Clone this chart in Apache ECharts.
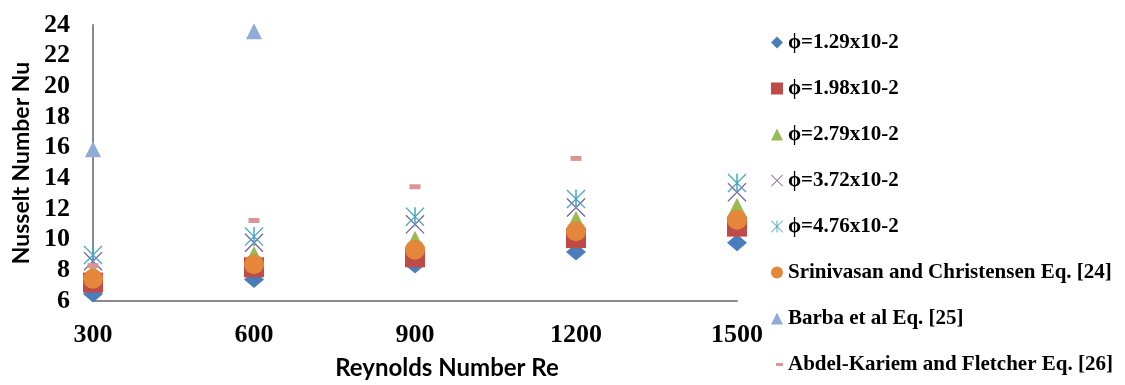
<!DOCTYPE html>
<html>
<head>
<meta charset="utf-8">
<script src="https://cdn.jsdelivr.net/npm/echarts@6/dist/echarts.min.js"></script>
<style>
html,body{margin:0;padding:0;background:#fff;}
#chart{width:1125px;height:385px;}
</style>
</head>
<body>
<div id="chart"></div>
<script>
// ---- data ----
var reynolds = [300, 600, 900, 1200, 1500];
var phi129 = [6.45, 7.4, 8.35, 9.2, 9.8];
var phi198 = [7.2, 8.2, 8.85, 10.1, 10.85];
var phi279 = [7.9, 9.0, 10.0, 11.3, 12.15];
var phi372 = [8.6, 9.8, 11.0, 12.1, 13.1];
var phi476 = [9.0, 10.2, 11.5, 12.65, 13.7];
var srinivasan = [7.45, 8.4, 9.35, 10.55, 11.3];
var barbaRe = [300, 600];
var barba = [15.9, 23.6];
var abdelRe = [300, 600, 900, 1200];
var abdel = [8.3, 11.25, 13.45, 15.3];
var seriesNames = [
  'ϕ=1.29x10-2', 'ϕ=1.98x10-2', 'ϕ=2.79x10-2', 'ϕ=3.72x10-2', 'ϕ=4.76x10-2',
  'Srinivasan and Christensen Eq. [24]', 'Barba et al Eq. [25]', 'Abdel-Kariem and Fletcher Eq. [26]'
];
var yTicks = [6, 8, 10, 12, 14, 16, 18, 20, 22, 24];
var xTicks = [300, 600, 900, 1200, 1500];

function pairs(xs, ys) { return ys.map(function (v, i) { return [xs[i], v]; }); }

var xPath = 'path://M0,1 L1,0 L10,9 L19,0 L20,1 L11,10 L20,19 L19,20 L10,11 L1,20 L0,19 L9,10 Z';
var starPath = 'path://M0,1 L1,0 L10,9 L19,0 L20,1 L11,10 L20,19 L19,20 L10,11 L1,20 L0,19 L9,10 Z M9.2,0 L10.8,0 L10.8,20 L9.2,20 Z';

var serifBold = {fontFamily: 'Liberation Serif', fontWeight: 'bold', color: '#000'};

var chart = echarts.init(document.getElementById('chart'), null, {renderer: 'canvas'});
chart.setOption({
  animation: false,
  backgroundColor: '#fff',
  grid: {left: 93, right: 388, top: 25, bottom: 78.5, containLabel: false},
  xAxis: {
    type: 'value', min: 300, max: 1500, interval: 300,
    axisLine: {show: true, onZero: false, lineStyle: {color: '#898989', width: 2}},
    axisTick: {show: false}, splitLine: {show: false},
    axisLabel: Object.assign({fontSize: 26, margin: 21, formatter: function (v) { return String(v); }}, serifBold),
    name: 'Reynolds Number Re', nameLocation: 'middle', nameGap: 55,
    nameTextStyle: {fontFamily: 'Lato', fontWeight: 'bold', fontSize: 24, color: '#000', padding: [0, 0, 0, 64]}
  },
  yAxis: {
    type: 'value', min: 6, max: 24, interval: 2,
    axisLine: {show: true, lineStyle: {color: '#898989', width: 2}},
    axisTick: {show: false}, splitLine: {show: false},
    axisLabel: Object.assign({fontSize: 26, margin: 23, formatter: function (v) { return String(v); }}, serifBold),
    name: 'Nusselt Number Nu', nameLocation: 'middle', nameGap: 59, nameRotate: 90,
    nameTextStyle: {fontFamily: 'Lato', fontWeight: 'bold', fontSize: 23, color: '#000'}
  },
  legend: [{
    orient: 'vertical', left: 766, top: 27, itemWidth: 12, itemHeight: 12, itemGap: 25,
    textStyle: Object.assign({fontSize: 21, lineHeight: 20}, serifBold),
    data: seriesNames.slice(0, 7)
  }, {
    orient: 'vertical', left: 771, top: 349, itemWidth: 7, itemHeight: 3,
    textStyle: Object.assign({fontSize: 21, lineHeight: 20}, serifBold),
    data: seriesNames.slice(7)
  }],
  series: [
    {name: seriesNames[0], type: 'scatter', data: pairs(reynolds, phi129), symbol: 'diamond', symbolSize: [20, 17], itemStyle: {color: '#4A7DBA', opacity: 1}},
    {name: seriesNames[1], type: 'scatter', data: pairs(reynolds, phi198), symbol: 'rect', symbolSize: 20, itemStyle: {color: '#BE4B48', opacity: 1}},
    {name: seriesNames[2], type: 'scatter', data: pairs(reynolds, phi279), symbol: 'triangle', symbolSize: 18, itemStyle: {color: '#98B954', opacity: 1}},
    {name: seriesNames[3], type: 'scatter', data: pairs(reynolds, phi372), symbol: xPath, symbolSize: 19, itemStyle: {color: '#7D60A0', opacity: 1}},
    {name: seriesNames[4], type: 'scatter', data: pairs(reynolds, phi476), symbol: starPath, symbolSize: 19, itemStyle: {color: '#46AAC5', opacity: 1}},
    {name: seriesNames[5], type: 'scatter', data: pairs(reynolds, srinivasan), symbol: 'circle', symbolSize: 20, itemStyle: {color: '#E5873B', opacity: 1}},
    {name: seriesNames[6], type: 'scatter', data: pairs(barbaRe, barba), symbol: 'triangle', symbolSize: 16, itemStyle: {color: '#91ABD8', opacity: 1}},
    {name: seriesNames[7], type: 'scatter', data: pairs(abdelRe, abdel), symbol: 'rect', symbolSize: [11, 5], itemStyle: {color: '#D99694', opacity: 1}}
  ]
});
</script>
</body>
</html>
